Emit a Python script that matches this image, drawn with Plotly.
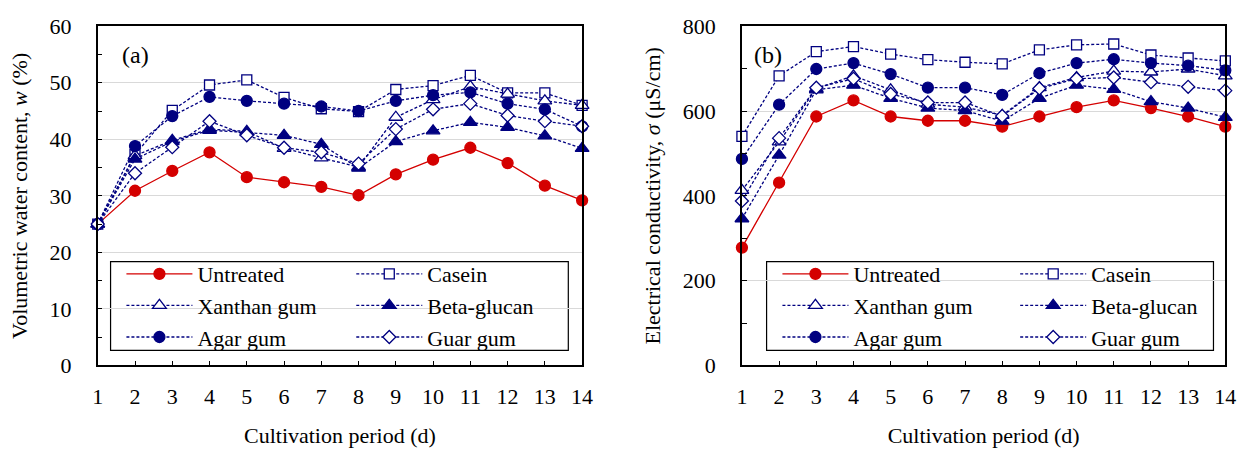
import plotly.graph_objects as go

# Cultivation days
days = list(range(1, 15))

# Volumetric water content w (%)
w_untreated = [25.0, 30.9, 34.4, 37.7, 33.3, 32.4, 31.6, 30.1, 33.8, 36.4, 38.5, 35.8, 31.8, 29.2]
w_casein    = [25.0, 37.3, 45.1, 49.6, 50.5, 47.4, 45.4, 44.9, 48.8, 49.5, 51.3, 48.2, 48.2, 46.0]
w_xanthan   = [25.0, 37.1, 39.8, 41.8, 41.4, 38.4, 36.7, 35.1, 43.9, 47.0, 49.3, 48.0, 46.8, 46.0]
w_beta      = [25.0, 36.5, 39.6, 41.6, 41.2, 40.7, 39.1, 34.9, 39.6, 41.5, 43.0, 42.1, 40.6, 38.4]
w_agar      = [25.0, 38.8, 44.1, 47.5, 46.8, 46.3, 45.8, 45.0, 46.8, 47.8, 48.3, 46.3, 45.3, 42.3]
w_guar      = [25.0, 34.0, 38.6, 43.2, 40.7, 38.5, 37.7, 35.7, 41.8, 45.3, 46.3, 44.2, 43.2, 42.3]

# Electrical conductivity sigma (uS/cm)
s_untreated = [278, 431, 587, 625, 587, 577, 577, 563, 587, 609, 625, 607, 587, 563]
s_casein    = [540, 683, 740, 752, 734, 721, 715, 711, 744, 756, 758, 732, 725, 718]
s_xanthan   = [413, 527, 653, 683, 650, 616, 609, 590, 655, 679, 694, 692, 699, 683]
s_beta      = [346, 496, 650, 661, 630, 607, 601, 576, 630, 661, 651, 622, 607, 585]
s_agar      = [487, 615, 699, 713, 687, 655, 655, 638, 689, 713, 722, 713, 707, 696]
s_guar      = [388, 536, 655, 676, 640, 620, 620, 588, 653, 676, 679, 668, 657, 648]

RED = "#d40000"
NAVY = "#000080"
FONT = "Liberation Serif, Times New Roman, serif"
FS = 22

W, H = 1259, 456

# name, marker symbol, fill, size, legend column (0 = left, 1 = right)
series_style = [
    ("Untreated",   "circle",      RED,     11, 0),
    ("Casein",      "square",      "white", 10, 1),
    ("Xanthan gum", "triangle-up", "white", 12, 0),
    ("Beta-glucan", "triangle-up", NAVY,    12, 1),
    ("Agar gum",    "circle",      NAVY,    11, 0),
    ("Guar gum",    "diamond",     "white", 10, 1),
]
w_values = [w_untreated, w_casein, w_xanthan, w_beta, w_agar, w_guar]
s_values = [s_untreated, s_casein, s_xanthan, s_beta, s_agar, s_guar]

fig = go.Figure()

panels = [
    (w_values, "x", "y", ("legend", "legend2")),
    (s_values, "x2", "y2", ("legend3", "legend4")),
]

for values, xa, ya, legs in panels:
    for (name, sym, fill, size, col), ys in zip(series_style, values):
        color = RED if name == "Untreated" else NAVY
        fig.add_trace(go.Scatter(
            x=days, y=ys, name=name, xaxis=xa, yaxis=ya,
            mode="lines+markers",
            line=dict(color=color, width=1.3,
                      dash="solid" if name == "Untreated" else "3px,2px"),
            marker=dict(symbol=sym, size=size, color=fill,
                        line=dict(color=color, width=1.3)),
            cliponaxis=False,
            legend=legs[col],
        ))

def px_x(p):
    return p / W

def px_y(p):
    return 1 - p / H

left_dom = [px_x(93), px_x(584)]
right_dom = [px_x(746), px_x(1236)]
y_dom = [px_y(374), px_y(15)]

axis_common = dict(
    showline=True, linecolor="black", linewidth=1.5, mirror=True,
    ticks="inside", tickcolor="black", ticklen=5, tickwidth=1,
    tickfont=dict(family=FONT, size=FS, color="black"),
    zeroline=False,
)

xaxis_common = dict(
    axis_common, range=[1, 14], tickmode="array", tickvals=days,
    showgrid=False, ticklabelstandoff=10,
    title=dict(text="Cultivation period (d)", font=dict(family=FONT, size=FS, color="black"),
               standoff=20),
)

fig.update_layout(
    width=W, height=H, margin=dict(l=0, r=0, t=0, b=0),
    paper_bgcolor="white", plot_bgcolor="white",
    font=dict(family=FONT, size=FS, color="black"),
    xaxis=dict(xaxis_common, domain=left_dom, anchor="y"),
    xaxis2=dict(xaxis_common, domain=right_dom, anchor="y2"),
    yaxis=dict(
        axis_common, domain=y_dom, anchor="x", range=[0, 60], dtick=10,
        showgrid=True, gridcolor="#d9d9d9", gridwidth=1,
        minor=dict(dtick=5, ticks="inside", ticklen=5, tickcolor="black", showgrid=False),
        ticklabelstandoff=20,
        title=dict(text="Volumetric water content, <i>w</i> (%)",
                   font=dict(family=FONT, size=FS, color="black"), standoff=16),
    ),
    yaxis2=dict(
        axis_common, domain=y_dom, anchor="x2", range=[0, 800], dtick=200,
        showgrid=True, gridcolor="#d9d9d9", gridwidth=1,
        minor=dict(dtick=100, ticks="inside", ticklen=5, tickcolor="black", showgrid=False),
        ticklabelstandoff=20,
        title=dict(text="Electrical conductivity, <i>σ</i> (μS/cm)",
                   font=dict(family=FONT, size=FS, color="black"), standoff=16),
    ),
    showlegend=True,
)

legend_common = dict(
    orientation="v", bgcolor="rgba(0,0,0,0)", borderwidth=0,
    font=dict(family=FONT, size=FS, color="black"),
    itemwidth=66, xanchor="left", yanchor="top",
    itemclick=False, itemdoubleclick=False,
)
fig.update_layout(
    legend=dict(legend_common, x=px_x(117), y=px_y(255)),
    legend2=dict(legend_common, x=px_x(350), y=px_y(255)),
    legend3=dict(legend_common, x=px_x(782), y=px_y(255)),
    legend4=dict(legend_common, x=px_x(1023), y=px_y(255)),
)

# Legend frames (opaque, hiding the gridlines behind them)
for x0, x1 in [(106, 570), (771, 1224)]:
    fig.add_shape(type="rect", xref="paper", yref="paper",
                  x0=px_x(x0), x1=px_x(x1), y0=px_y(358), y1=px_y(264),
                  line=dict(color="black", width=1.2), fillcolor="white", layer="between")

# Panel labels
fig.add_annotation(text="(a)", xref="paper", yref="paper", x=px_x(116), y=px_y(45),
                   xanchor="left", yanchor="middle", showarrow=False,
                   font=dict(family=FONT, size=24, color="black"))
fig.add_annotation(text="(b)", xref="paper", yref="paper", x=px_x(756), y=px_y(45),
                   xanchor="left", yanchor="middle", showarrow=False,
                   font=dict(family=FONT, size=24, color="black"))

fig.write_html("out.html")
